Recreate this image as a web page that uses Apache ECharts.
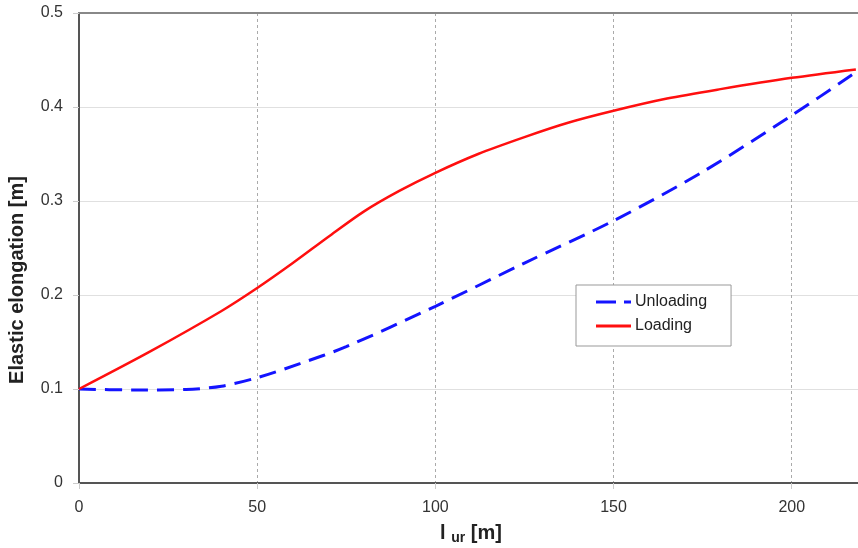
<!DOCTYPE html>
<html>
<head>
<meta charset="utf-8">
<script src="https://cdn.jsdelivr.net/npm/echarts@6/dist/echarts.min.js"></script>
<style>
  html, body { margin: 0; padding: 0; background: #fff; }
  #chart { width: 858px; height: 548px; }
</style>
</head>
<body>
<div id="chart"></div>
<script>
// valores (l_ur em m, alongamento elástico em m)
const lurLoad = [0, 20, 40, 50, 60, 70, 80, 90, 100, 112, 125, 137, 150, 165, 180, 200, 218];
const loading = [0.1, 0.14, 0.183, 0.2074, 0.234, 0.262, 0.289, 0.311, 0.33, 0.35, 0.368, 0.383, 0.396, 0.409, 0.419, 0.431, 0.44];

const lurUnl = [0, 15, 30, 40, 50, 62, 75, 100, 125, 150, 175, 200, 218];
const unloading = [0.1, 0.099, 0.0995, 0.103, 0.112, 0.127, 0.145, 0.188, 0.234, 0.279, 0.331, 0.391, 0.437];

const par = (xs, ys) => xs.map((x, i) => [x, ys[i]]);

const FONTE = "Liberation Sans, Arial, sans-serif";
const AZUL = "#1414ff";
const VERMELHO = "#ff0f0f";

const g = echarts.init(document.getElementById("chart"));

g.setOption({
  animation: false,
  textStyle: { fontFamily: FONTE },
  grid: { left: 79, top: 13, right: -5, bottom: 65, outerBoundsMode: "none", containLabel: false },
  legend: {
    orient: "vertical",
    left: 576,
    top: 285,
    padding: [9, 24, 12, 20],
    itemGap: 8,
    itemWidth: 35,
    itemHeight: 3,
    borderColor: "#999",
    borderWidth: 1,
    backgroundColor: "#fff",
    textStyle: { fontSize: 16, color: "#222", fontFamily: FONTE, padding: [0, 0, 0, -1] },
    data: [
      { name: "Unloading", icon: "path://M0,0H20V3H0Z M28,0H35V3H28Z" },
      { name: "Loading", icon: "path://M0,0H35V3H0Z" },
    ],
  },
  xAxis: [
    {
      type: "value",
      min: 0,
      max: 220,
      interval: 50,
      name: "{a|l }{b|ur}{a| [m]}",
      nameLocation: "middle",
      nameGap: 38,
      nameTextStyle: {
        rich: {
          a: { fontSize: 20, fontWeight: "bold", color: "#222", fontFamily: FONTE, lineHeight: 22 },
          b: { fontSize: 14, fontWeight: "bold", color: "#222", fontFamily: FONTE, verticalAlign: "bottom", padding: [10, 0, 0, 0] },
        },
      },
      axisLine: { show: true, lineStyle: { color: "#555", width: 2 } },
      axisTick: { show: true, length: 6, lineStyle: { color: "#ccc" } },
      axisLabel: { color: "#333", fontSize: 16, margin: 17, showMaxLabel: false },
      splitLine: { show: true, lineStyle: { color: "#aaa", type: [3, 3] } },
    },
    {
      type: "value",
      position: "top",
      min: 0,
      max: 220,
      axisLine: { show: true, lineStyle: { color: "#888", width: 2 } },
      axisTick: { show: false },
      axisLabel: { show: false },
      splitLine: { show: false },
    },
  ],
  yAxis: {
    type: "value",
    min: 0,
    max: 0.5,
    interval: 0.1,
    name: "Elastic elongation [m]",
    nameLocation: "middle",
    nameGap: 52,
    nameTextStyle: { fontSize: 20, fontWeight: "bold", color: "#222", padding: [0, 64, 0, 0] },
    axisLine: { show: true, lineStyle: { color: "#555", width: 2 } },
    axisTick: { show: true, length: 6, lineStyle: { color: "#ccc" } },
    axisLabel: { color: "#333", fontSize: 16, margin: 16, formatter: (v) => +v.toFixed(1) + "" },
    splitLine: { show: true, lineStyle: { color: "#e0e0e0" } },
  },
  series: [
    {
      name: "Unloading",
      type: "line",
      smooth: 0.3,
      symbol: "none",
      data: par(lurUnl, unloading),
      lineStyle: { color: AZUL, width: 3, type: [17, 9] },
      itemStyle: { color: AZUL },
      z: 3,
    },
    {
      name: "Loading",
      type: "line",
      smooth: 0.3,
      symbol: "none",
      data: par(lurLoad, loading),
      lineStyle: { color: VERMELHO, width: 2.5 },
      itemStyle: { color: VERMELHO },
      z: 4,
    },
  ],
});
</script>
</body>
</html>
